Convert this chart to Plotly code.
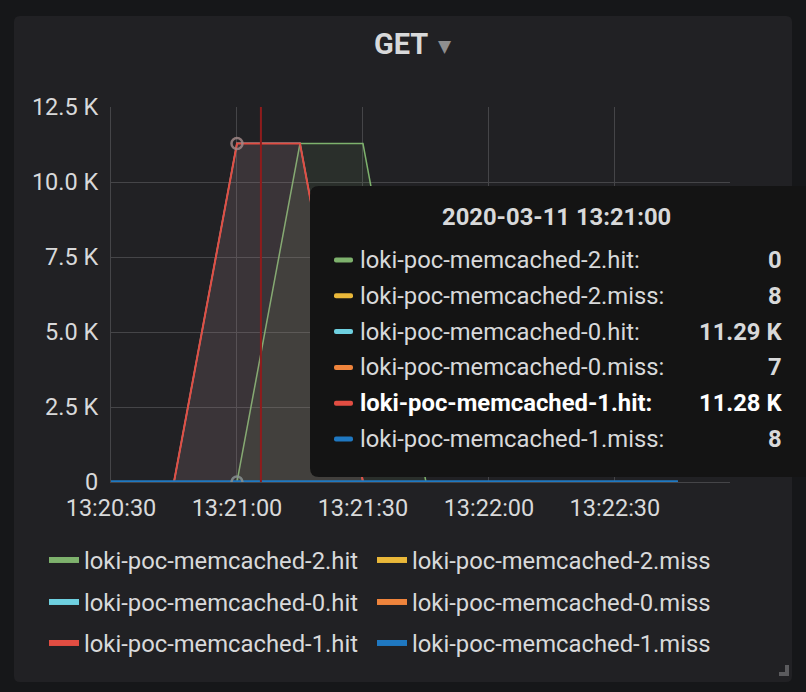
import plotly.graph_objects as go

# ---------------- data ----------------
times = ["2020-03-11 13:20:30", "2020-03-11 13:20:45", "2020-03-11 13:21:00",
         "2020-03-11 13:21:15", "2020-03-11 13:21:30", "2020-03-11 13:21:45",
         "2020-03-11 13:22:00", "2020-03-11 13:22:15", "2020-03-11 13:22:30",
         "2020-03-11 13:22:45"]
series_names = ["loki-poc-memcached-2.hit", "loki-poc-memcached-2.miss",
                "loki-poc-memcached-0.hit", "loki-poc-memcached-0.miss",
                "loki-poc-memcached-1.hit", "loki-poc-memcached-1.miss"]
series_colors = ["#7EB26D", "#EAB839", "#6ED0E0", "#EF843C", "#E24D42", "#1F78C1"]
hit2 = [0, 0, 0, 11280, 11280, 0, 0, 0, 0, 0]
miss2 = [7, 8, 8, 8, 7, 8, 7, 8, 8, 7]
hit0 = [0, 0, 11290, 11290, 0, 0, 0, 0, 0, 0]
miss0 = [8, 7, 7, 8, 8, 7, 8, 7, 7, 8]
hit1 = [0, 0, 11280, 11280, 0, 0, 0, 0, 0, 0]
miss1 = [8, 7, 8, 7, 8, 8, 7, 8, 7, 8]
series_values = [hit2, miss2, hit0, miss0, hit1, miss1]

y_tickvals = [0, 2500, 5000, 7500, 10000, 12500]
y_ticktext = ["0", "2.5 K", "5.0 K", "7.5 K", "10.0 K", "12.5 K"]
x_tickvals = ["2020-03-11 13:20:30", "2020-03-11 13:21:00", "2020-03-11 13:21:30",
              "2020-03-11 13:22:00", "2020-03-11 13:22:30"]
x_ticktext = ["13:20:30", "13:21:00", "13:21:30", "13:22:00", "13:22:30"]
x_range = ["2020-03-11 13:20:30", "2020-03-11 13:22:57.4"]
y_range = [0, 12500]

title_text = "GET"
hover_index = 2
hover_title = "2020-03-11 13:21:00"
crosshair_time = "2020-03-11 13:21:05.7"
highlight_series = 4

# ---------------- layout geometry ----------------
W, H = 806, 692
L, R, T, B = 111, 76, 107, 210
PW, PH = W - L - R, H - T - B


def xp(px):
    return (px - L) / PW


def yp(py):
    return (H - B - py) / PH


def rounded_path(x0, y0, x1, y1, r):
    rx, ry = r / PW, r / PH
    X0, X1 = xp(x0), xp(x1)
    Y0, Y1 = yp(y0), yp(y1)  # Y0 top (larger), Y1 bottom
    return (f"M{X0+rx},{Y0} L{X1-rx},{Y0} Q{X1},{Y0} {X1},{Y0-ry} "
            f"L{X1},{Y1+ry} Q{X1},{Y1} {X1-rx},{Y1} L{X0+rx},{Y1} "
            f"Q{X0},{Y1} {X0},{Y1+ry} L{X0},{Y0-ry} Q{X0},{Y0} {X0+rx},{Y0} Z")


def rgba(hexc, a):
    h = hexc.lstrip("#")
    return f"rgba({int(h[0:2],16)},{int(h[2:4],16)},{int(h[4:6],16)},{a})"


def fmt(v):
    return f"{v/1000:.2f} K" if v >= 1000 else str(v)


FONT = "Roboto, Helvetica Neue, Arial, sans-serif"
TXT = "#d8d9da"
FS = 23.8

fig = go.Figure()

line_widths = [1.5, 1.5, 1.5, 1.5, 2, 3]
for i, (name, col, vals) in enumerate(zip(series_names, series_colors, series_values)):
    fig.add_trace(go.Scatter(
        x=times, y=vals, mode="lines", name=name,
        line=dict(color=col, width=line_widths[i]),
        fill="tozeroy", fillcolor=rgba(col, 0.1),
        showlegend=False, hoverinfo="skip"))

# hover highlight points
fig.add_trace(go.Scatter(
    x=[times[hover_index], times[hover_index]],
    y=[hit1[hover_index], hit2[hover_index]],
    mode="markers",
    marker=dict(symbol="circle-open", size=11,
                color=["rgba(160,135,135,0.85)", "rgba(135,145,145,0.85)"],
                line=dict(width=2.5)),
    showlegend=False, hoverinfo="skip"))

# legend entries: one legend box per entry, laid out 2 per row
legend_rows = [560, 602, 643]
legend_cols = [44, 372]
legend_layout = {}
for i, (name, col) in enumerate(zip(series_names, series_colors)):
    key = "legend" if i == 0 else f"legend{i+1}"
    fig.add_trace(go.Scatter(
        x=[None], y=[None], mode="lines", name=name,
        line=dict(color=col, width=6), legend=key, showlegend=True))
    legend_layout[key] = dict(
        x=xp(legend_cols[i % 2]), y=yp(legend_rows[i // 2]),
        orientation="h", xanchor="left", yanchor="middle",
        bgcolor="rgba(0,0,0,0)", font=dict(family=FONT, size=FS, color=TXT),
        itemclick=False, itemdoubleclick=False)

shapes = []
# panel background
shapes.append(dict(type="path", xref="paper", yref="paper", layer="below",
                   path=rounded_path(14, 16, 792, 682, 6),
                   fillcolor="#212124", line=dict(width=0)))
# resize handle
shapes.append(dict(type="rect", xref="paper", yref="paper",
                   x0=xp(779), x1=xp(789), y0=yp(676), y1=yp(672),
                   fillcolor="#5b5b5e", line=dict(width=0)))
shapes.append(dict(type="rect", xref="paper", yref="paper",
                   x0=xp(785), x1=xp(789), y0=yp(676), y1=yp(665),
                   fillcolor="#5b5b5e", line=dict(width=0)))
# crosshair
shapes.append(dict(type="line", xref="x", yref="y",
                   x0=crosshair_time, x1=crosshair_time, y0=y_range[0], y1=y_range[1],
                   line=dict(color="#8f1c1c", width=2)))
# tooltip box
shapes.append(dict(type="path", xref="paper", yref="paper",
                   path=rounded_path(310, 186, 816, 477, 9),
                   fillcolor="#141414", line=dict(width=0)))

annotations = []
# title
annotations.append(dict(xref="paper", yref="paper", x=xp(401), y=yp(44),
                        text=f"<b>{title_text}</b>", showarrow=False,
                        font=dict(family=FONT, size=29, color=TXT),
                        xanchor="center", yanchor="middle"))
annotations.append(dict(xref="paper", yref="paper", x=xp(445), y=yp(46),
                        text="▼", showarrow=False,
                        font=dict(family="DejaVu Sans", size=17, color="#8e8e8e"),
                        xanchor="center", yanchor="middle"))
# tooltip
annotations.append(dict(xref="paper", yref="paper", x=xp(556), y=yp(217),
                        text=f"<b>{hover_title}</b>", showarrow=False,
                        font=dict(family=FONT, size=FS, color=TXT),
                        xanchor="center", yanchor="middle"))
row_y0, row_dy = 260, 35.8
for i, (name, col, vals) in enumerate(zip(series_names, series_colors, series_values)):
    ry = row_y0 + i * row_dy
    shapes.append(dict(type="path", xref="paper", yref="paper",
                       path=rounded_path(334, ry - 2.5, 353, ry + 2.5, 2),
                       fillcolor=col, line=dict(width=0)))
    bold = i == highlight_series
    lab = f"{name}:"
    annotations.append(dict(xref="paper", yref="paper", x=xp(358), y=yp(ry),
                            text=f"<b>{lab}</b>" if bold else lab, showarrow=False,
                            font=dict(family=FONT, size=FS, color="#ffffff" if bold else TXT),
                            xanchor="left", yanchor="middle"))
    annotations.append(dict(xref="paper", yref="paper", x=xp(784), y=yp(ry),
                            text=f"<b>{fmt(vals[hover_index])}</b>", showarrow=False,
                            font=dict(family=FONT, size=FS, color="#ffffff" if bold else TXT),
                            xanchor="right", yanchor="middle"))

grid = "#454548"
fig.update_layout(
    width=W, height=H,
    margin=dict(l=L, r=R, t=T, b=B, pad=0),
    paper_bgcolor="#161719", plot_bgcolor="#212124",
    font=dict(family=FONT, size=FS, color=TXT),
    xaxis=dict(type="date", range=x_range, tickvals=x_tickvals, ticktext=x_ticktext,
               showgrid=True, gridcolor=grid, gridwidth=1, zeroline=False,
               showline=True, linecolor=grid, linewidth=1, ticks="", layer="below traces",
               ticklabelstandoff=5, tickfont=dict(size=23.5, color=TXT), fixedrange=True),
    yaxis=dict(range=y_range, tickvals=y_tickvals, ticktext=y_ticktext,
               showgrid=True, gridcolor=grid, gridwidth=1, zeroline=False,
               showline=True, linecolor=grid, linewidth=1, ticks="", layer="below traces",
               ticklabelstandoff=7, tickfont=dict(size=23.5, color=TXT), fixedrange=True),
    shapes=shapes, annotations=annotations,
    hovermode=False, showlegend=True,
    **legend_layout,
)

fig.write_html("out.html", config={"displayModeBar": False})
